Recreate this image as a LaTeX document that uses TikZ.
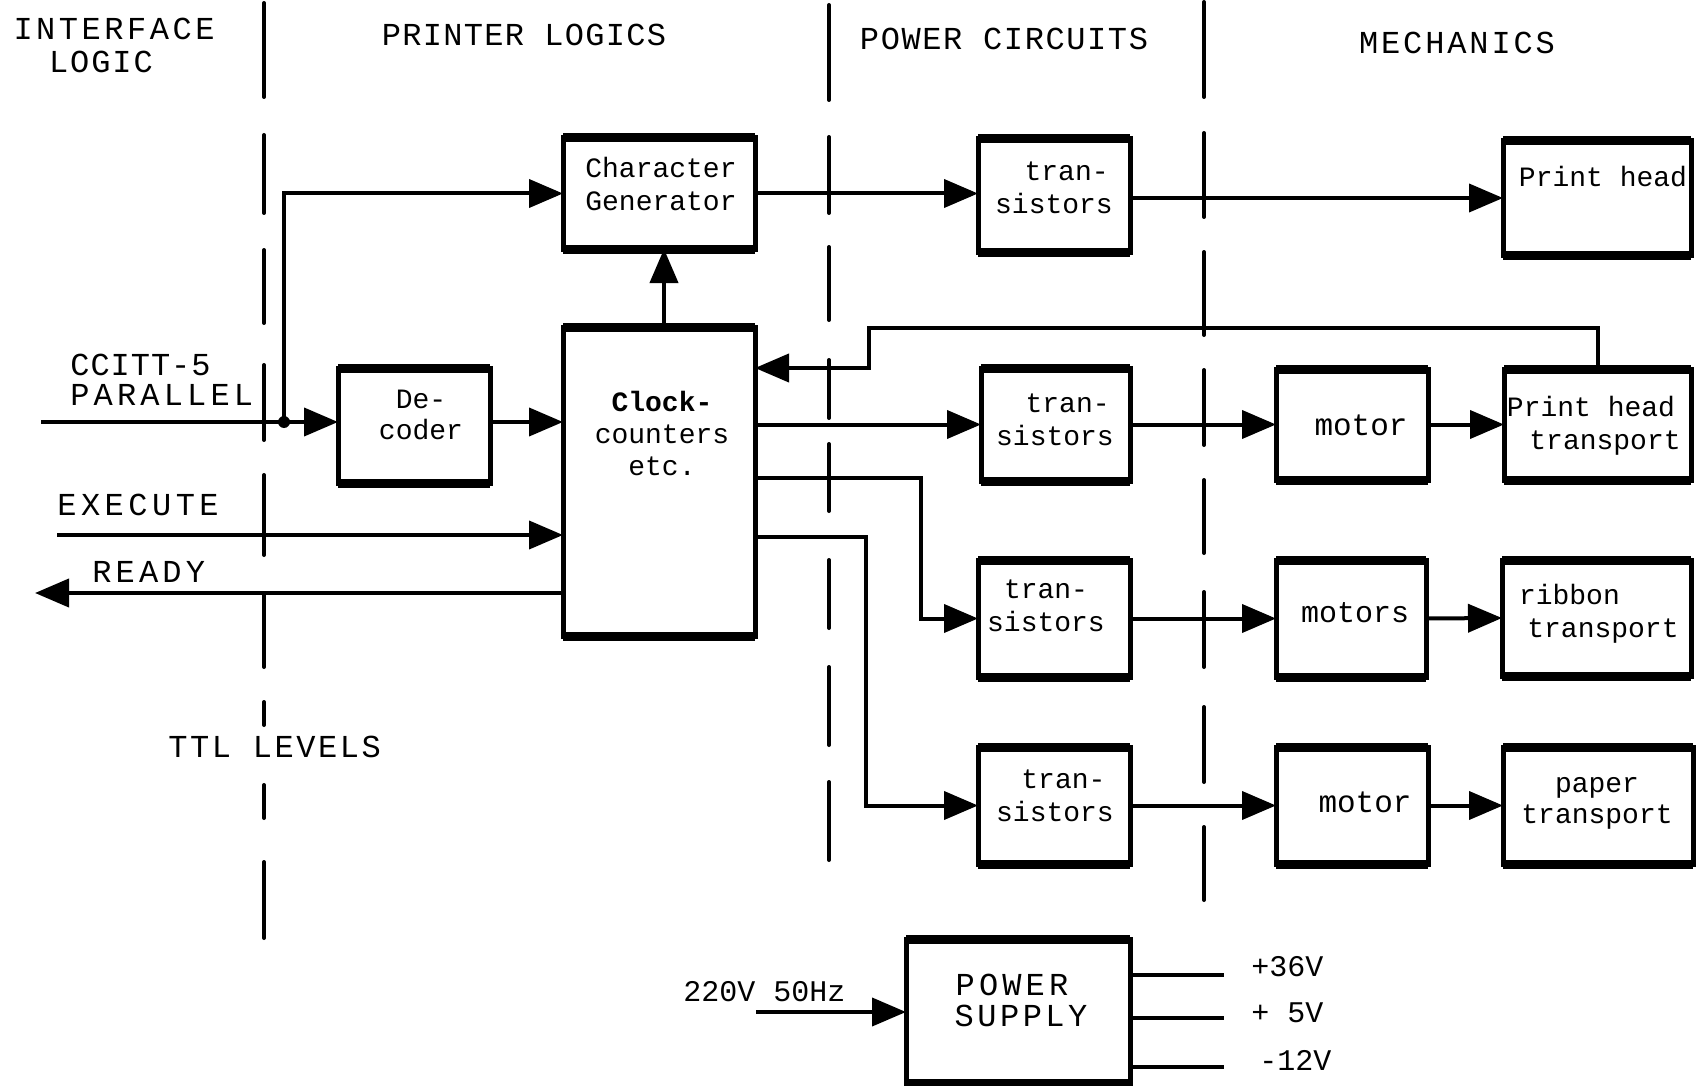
\documentclass[tikz,border=0pt]{standalone}
\usepackage{fontspec}
\setmainfont{Liberation Mono}
\usetikzlibrary{arrows.meta}
\newcommand\tsz[2]{\fontsize{#1}{#2}\selectfont}
\newcommand\capf[2]{\fontsize{#1}{16.5}\selectfont\addfontfeature{LetterSpace=#2}}
\begin{document}
\begin{tikzpicture}[x=0.5pt,y=-0.5pt,
  blk/.style={draw, rectangle, line width=2.5pt, outer sep=0pt, inner sep=0pt},
  conn/.style={line width=2pt},
  arr/.style={conn, -{Triangle[length=17pt,width=14pt]}},
  divline/.style={line width=2pt, line cap=round},
  hdr/.style={inner sep=0pt, align=center},
  side/.style={inner sep=0pt, anchor=west},
  intext/.style={inner sep=0pt, align=center, font=\tsz{14}{16.5}}]
\useasboundingbox (0,0) rectangle (1699,1086);
\fill[white] (0,0) rectangle (1699,1086);

% dashed dividers
\foreach \a/\b in {3/97,135/213,250/323,365/440,475/555,595/667,702/725,785/818,862/938}
  \draw[divline] (264,\a) -- (264,\b);
\foreach \a/\b in {5/100,137/213,247/320,360/418,444/511,560/628,667/745,782/860}
  \draw[divline] (829,\a) -- (829,\b);
\foreach \a/\b in {2/97,133/217,252/335,370/445,480/553,592/667,707/782,827/900}
  \draw[divline] (1204,\a) -- (1204,\b);

% headers
\node[hdr, font=\capf{16}{11}] (h1a) at (114,29) {INTERFACE};
\node[hdr, font=\capf{16}{6}] (h1b) at (101,62) {LOGIC};
\node[hdr, font=\capf{16}{4}] (h2) at (524,35) {PRINTER LOGICS};
\node[hdr, font=\capf{16}{5}] (h3) at (1004,39) {POWER CIRCUITS};
\node[hdr, font=\capf{16}{9}] (h4) at (1457,43) {MECHANICS};

% boxes
\node[blk, minimum width=96pt, minimum height=55.5pt] (cg) at (659,193.5) {};
\node[blk, minimum width=96pt, minimum height=154.5pt] (clk) at (659,481.5) {};
\node[blk, minimum width=76pt, minimum height=57.5pt] (dec) at (414,425.5) {};
\node[blk, minimum width=76pt, minimum height=56.5pt] (t1) at (1054,195.5) {};
\node[blk, minimum width=74.5pt, minimum height=56.5pt] (t2) at (1055.5,424.5) {};
\node[blk, minimum width=76pt, minimum height=58.5pt] (t3) at (1054,618.5) {};
\node[blk, minimum width=76pt, minimum height=58.5pt] (t4) at (1054,805.5) {};
\node[blk, minimum width=94pt, minimum height=57pt] (ph) at (1597,198) {};
\node[blk, minimum width=76pt, minimum height=55.5pt] (m1) at (1352,424.5) {};
\node[blk, minimum width=93.5pt, minimum height=55.5pt] (pht) at (1597.5,424.5) {};
\node[blk, minimum width=75pt, minimum height=58.5pt] (m2) at (1351,618.5) {};
\node[blk, minimum width=94.5pt, minimum height=58pt] (rt) at (1596.5,618) {};
\node[blk, minimum width=76pt, minimum height=58.5pt] (m3) at (1352,805.5) {};
\node[blk, minimum width=95pt, minimum height=58.5pt] (paper) at (1598,805.5) {};
\node[blk, minimum width=112pt, minimum height=72pt] (ps) at (1018,1011) {};
\foreach \n in {cg,clk,dec,t1,t2,t3,t4,ph,m1,pht,m2,rt,m3,paper,ps}{
  \draw[line width=4.5pt] (\n.north west) -- (\n.north east);
  \draw[line width=4.5pt] (\n.south west) -- (\n.south east);
}

% box texts
\node[intext] (cgt) at (661,184) {Character\\Generator};
\node[intext, font=\tsz{14}{16}] (clkt) at (662,433) {{\bfseries Clock-}\\counters\\etc.};
\node[intext, font=\tsz{14}{15.5}] (dect) at (421,415) {De-\\coder};
\node[intext] (t1t) at (1054,188) {\hspace*{0.9em}tran-\\sistors};
\node[intext] (t2t) at (1055,420) {\hspace*{0.9em}tran-\\sistors};
\node[intext] (t3t) at (1046,606) {tran-\\sistors};
\node[intext] (t4t) at (1055,796) {\hspace*{0.6em}tran-\\sistors};
\node[intext] (pht0) at (1603,177) {Print head};
\node[intext, font=\tsz{15.5}{16.5}] (m1t) at (1361,425) {motor};
\node[intext] (phtt) at (1591,426) {Print head\\\hspace*{1.0em}transport};
\node[intext, font=\tsz{15}{16.5}] (m2t) at (1355,613) {motors};
\node[intext] (rtt) at (1603,614) {ribbon\hspace*{2.4em}\\transport};
\node[intext, font=\tsz{15.5}{16.5}] (m3t) at (1365,802) {motor};
\node[intext, font=\tsz{14}{15.5}] (papt) at (1597,803) {paper\\transport};
\node[hdr, font=\capf{16}{13}] (pst1) at (1012,985) {POWER};
\node[hdr, font=\capf{16}{11}] (pst2) at (1021,1016) {SUPPLY};

% side labels
\node[side, font=\capf{16}{3}] (l1) at (70,365) {CCITT-5};
\node[side, font=\capf{16}{13}] (l2) at (70,395) {PARALLEL};
\node[side, font=\capf{16}{14}] (l3) at (57,505) {EXECUTE};
\node[side, font=\capf{16}{13}] (l4) at (92,572) {READY};
\node[side, font=\capf{16}{8}] (l5) at (168,747) {TTL LEVELS};
\node[side, font=\tsz{15}{18}] (l6) at (683,992) {220V 50Hz};
\node[side, font=\tsz{15}{18}] (l7) at (1251,967) {+36V};
\node[side, font=\tsz{15}{18}] (l8) at (1251,1013) {+ 5V};
\node[side, font=\tsz{15}{18}] (l9) at (1259,1060) {-12V};

% free ends
\coordinate (ccittin) at (41,422);
\coordinate (jn) at (284,422);
\coordinate (execin) at (57,535);
\coordinate (readyout) at (35,593);
\coordinate (fb1) at (869,328);
\coordinate (fb2) at (869,368);
\coordinate (c3a) at (921,478);
\coordinate (c4a) at (866,537);
\coordinate (acin) at (756,1012);
\coordinate (o36) at (1224,975);
\coordinate (o5) at (1224,1018);
\coordinate (o12) at (1224,1067);

% connectors
\draw[arr] (ccittin) -- (ccittin -| dec.west);
\fill (jn) circle (3pt);
\draw[arr] (jn) |- (cg.west);
\draw[arr] (dec.east |- ccittin) -- (ccittin -| clk.west);
\draw[arr] (execin) -- (execin -| clk.west);
\draw[arr] (readyout -| clk.west) -- (readyout);
\draw[arr] (clk.north -| 664,0) -- (cg.south -| 664,0);
\draw[arr] (cg.east) -- (cg.east -| t1.west);
\draw[arr] (t1.east |- ph.west) -- (ph.west);
\draw[arr] (pht.north) -- (pht.north |- fb1) -- (fb1) -- (fb2) -- (fb2 -| clk.east);
\draw[arr] (clk.east |- t2.west) -- (t2.west);
\draw[arr] (clk.east |- c3a) -- (c3a) |- (t3.west);
\draw[arr] (clk.east |- c4a) -- (c4a) |- (t4.west);
\draw[arr] (t2.east) -- (m1.west);
\draw[arr] (m1.east) -- (pht.west);
\draw[arr] (t3.east) -- (m2.west);
\draw[arr] (m2.east) -- (rt.west);
\draw[arr] (t4.east) -- (m3.west);
\draw[arr] (m3.east) -- (paper.west);
\draw[arr] (acin) -- (acin -| ps.west);
\draw[conn] (ps.east |- o36) -- (o36);
\draw[conn] (ps.east |- o5) -- (o5);
\draw[conn] (ps.east |- o12) -- (o12);
\end{tikzpicture}
\end{document}
